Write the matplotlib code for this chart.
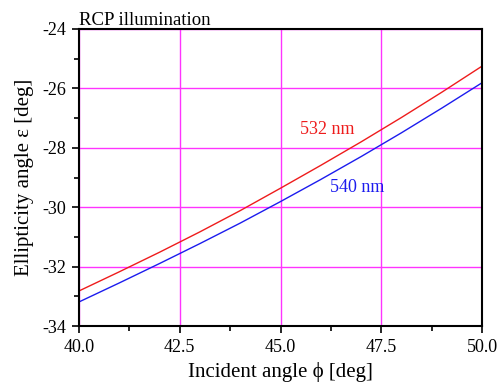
import matplotlib
matplotlib.use("Agg")
import matplotlib.pyplot as plt
from matplotlib.ticker import MultipleLocator, FormatStrFormatter

plt.rcParams['font.family'] = ['Liberation Serif', 'DejaVu Serif']
plt.rcParams['axes.unicode_minus'] = False

# incident angle [deg] and ellipticity angle [deg] for each wavelength
phi = [40, 41, 42, 43, 44, 45, 46, 47, 48, 49, 50]
eps_532 = [-32.82, -32.175, -31.515, -30.83, -30.115, -29.36, -28.59, -27.80, -26.98, -26.13, -25.25]
eps_540 = [-33.19, -32.55, -31.895, -31.225, -30.535, -29.81, -29.065, -28.295, -27.495, -26.665, -25.81]

fig = plt.figure(figsize=(4.98, 3.83), dpi=100)
ax = fig.add_axes([0.1586, 0.1488, 0.8094, 0.7755])

ax.plot(phi, eps_532, color='#ee1c1c', lw=1.0)
ax.plot(phi, eps_540, color='#1c1cee', lw=1.0)

ax.set_xlim(40, 50)
ax.set_ylim(-34, -24)
ax.xaxis.set_major_locator(MultipleLocator(2.5))
ax.xaxis.set_minor_locator(MultipleLocator(1.25))
ax.yaxis.set_major_locator(MultipleLocator(2))
ax.yaxis.set_minor_locator(MultipleLocator(1))
ax.xaxis.set_major_formatter(FormatStrFormatter('%.1f'))
ax.yaxis.set_major_formatter(FormatStrFormatter('%d'))

ax.grid(True, which='major', color='#ff33ff', lw=1.0)
ax.tick_params(which='both', direction='out', top=False, right=False,
               labelsize=13, width=1.2, color='black')
ax.tick_params(which='major', length=5, pad=4)
ax.tick_params(which='minor', length=3.5)
for s in ax.spines.values():
    s.set_linewidth(1.5)

ax.set_xlabel('Incident angle ϕ [deg]', fontsize=15, labelpad=5)
ax.set_ylabel('Ellipticity angle ε [deg]', fontsize=15, labelpad=6)
ax.set_title('RCP illumination', fontsize=13.5, loc='left', pad=3)

ax.text(46.15, -27.4, '532 nm', color='#ee1c1c', fontsize=13, ha='center', va='center')
ax.text(46.9, -29.35, '540 nm', color='#1c1cee', fontsize=13, ha='center', va='center')

fig.savefig('out.png', dpi=100)
